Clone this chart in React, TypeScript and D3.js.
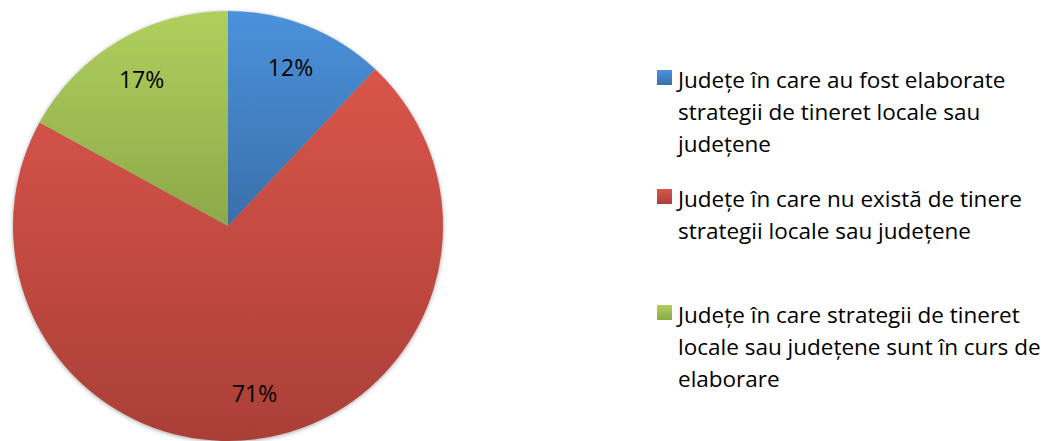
import React from 'react'
import * as d3 from 'd3'

/** Category names as shown in legend (already wrapped like the original) */
const categories = [
    'Județe în care au fost elaborate strategii de tineret locale sau județene',
    'Județe în care nu există de tinere strategii locale sau județene',
    'Județe în care strategii de tineret locale sau județene sunt în curs de elaborare',
]

const legendLines = [
    ['Județe în care au fost elaborate', 'strategii de tineret locale sau', 'județene'],
    ['Județe în care nu există de tinere', 'strategii locale sau județene'],
    ['Județe în care strategii de tineret', 'locale sau județene sunt în curs de', 'elaborare'],
]

/** Percent shares */
const values = [12, 71, 17]

const colorsTop = ['#4b92dc', '#d9554b', '#b0d05d']
const colorsBottom = ['#3a6fa9', '#aa3f37', '#8da849']

const WIDTH = 1055
const HEIGHT = 441
const FONT = '"Open Sans", sans-serif'

/**
 * Renders the pie with its gradient fills and percent labels
 */
const Pie = (props: { cx: number, cy: number, radius: number }) => {
    const pie = d3.pie<number>().sort(null).value((d) => d)
    const arcs = pie(values)
    const arc = d3.arc<d3.PieArcDatum<number>>().innerRadius(0).outerRadius(props.radius)
    const labelArc = d3.arc<d3.PieArcDatum<number>>()
        .innerRadius(props.radius * 0.79)
        .outerRadius(props.radius * 0.79)

    return (
        <g transform={`translate(${props.cx}, ${props.cy})`}>
            <circle r={props.radius} fill='#fff' filter='url(#pieShadow)' />
            {arcs.map((a, i) => (
                <path key={i} d={arc(a) || ''} fill={`url(#grad${i})`} />
            ))}
            {arcs.map((a, i) => {
                const [x, y] = labelArc.centroid(a)
                return (
                    <text
                        key={i}
                        x={x}
                        y={y}
                        dy='0.35em'
                        textAnchor='middle'
                        fontFamily={FONT}
                        fontSize={23}
                        fill='#000'
                    >
                        {`${values[i]}%`}
                    </text>
                )
            })}
        </g>
    )
}

/**
 * Renders the legend on the right
 */
const Legend = (props: { left: number, tops: number[] }) => (
    <g transform={`translate(${props.left}, 0)`}>
        {legendLines.map((lines, i) => (
            <g key={i} transform={`translate(0, ${props.tops[i]})`}>
                <title>{categories[i]}</title>
                <rect width={15} height={15} fill={`url(#grad${i})`} />
                <text fontFamily={FONT} fontSize={22.5} fill='#000'>
                    {lines.map((line, j) => (
                        <tspan key={j} x={21} y={18 + j * 32}>{line}</tspan>
                    ))}
                </text>
            </g>
        ))}
    </g>
)

export default function App () {
    return (
        <div style={{ position: 'absolute', left: 0, top: 0 }}>
            <svg width={WIDTH} height={HEIGHT} style={{ display: 'block', background: '#fff' }}>
                <defs>
                    {values.map((_, i) => (
                        <linearGradient key={i} id={`grad${i}`} x1='0' y1='0' x2='0' y2='1'>
                            <stop offset='0' stopColor={colorsTop[i]} />
                            <stop offset='1' stopColor={colorsBottom[i]} />
                        </linearGradient>
                    ))}
                    <filter id='pieShadow' x='-10%' y='-10%' width='120%' height='120%'>
                        <feGaussianBlur in='SourceAlpha' stdDeviation='2' />
                        <feOffset dx='0' dy='1' result='blur' />
                        <feFlood floodColor='#000' floodOpacity='0.35' />
                        <feComposite in2='blur' operator='in' />
                    </filter>
                </defs>
                <Pie cx={228} cy={226} radius={215} />
                <Legend left={657} tops={[70, 189, 305]} />
            </svg>
        </div>
    )
}
